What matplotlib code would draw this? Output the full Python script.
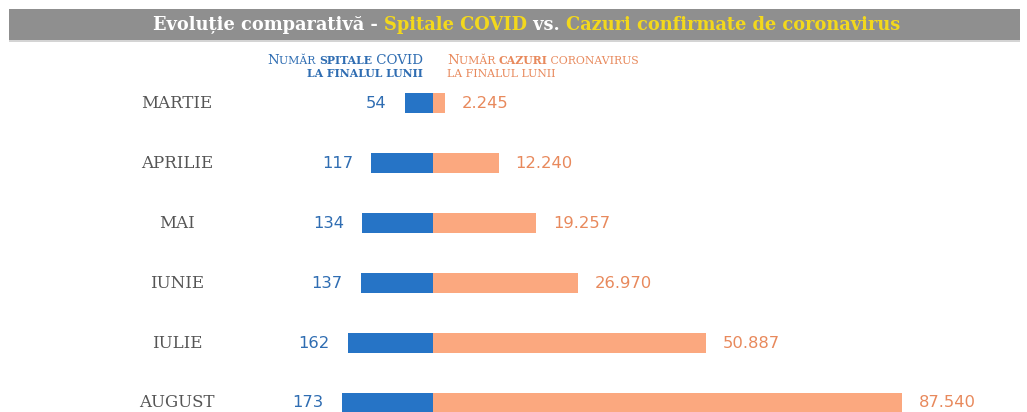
"""
Evolutie comparativa - Spitale COVID vs. Cazuri confirmate de coronavirus
Back-to-back horizontal bars: hospitals (left, blue) vs confirmed cases (right, orange)
"""

import matplotlib
matplotlib.use("Agg")
import matplotlib.pyplot as plt
from matplotlib.patches import Rectangle
from matplotlib import transforms


# Data
months = ['MARTIE', 'APRILIE', 'MAI', 'IUNIE', 'IULIE', 'AUGUST']
hospitals = [54, 117, 134, 137, 162, 173]
cases = [2245, 12240, 19257, 26970, 50887, 87540]

W, H = 1027, 412
BLUE = '#2674c6'
BLUE_TXT = '#2f6db2'
ORANGE = '#fba87f'
ORANGE_TXT = '#e8895c'
YELLOW = '#f3d81c'
GREY_BANNER = '#8f8f8f'


def fmt_ro(v):
    """Romanian thousands separator."""
    return f"{v:,}".replace(',', '.')


def draw_segments(fig, renderer, x_px, y_px, segments, ha='left'):
    """Draw a row of differently styled text pieces; y_px is the baseline from top."""
    texts = []
    for s, props in segments:
        t = fig.text(0, 0, s, va='baseline', ha='left', **props)
        texts.append(t)
    widths = [t.get_window_extent(renderer).width for t in texts]
    total = sum(widths)
    if ha == 'center':
        x = x_px - total / 2
    elif ha == 'right':
        x = x_px - total
    else:
        x = x_px
    for t, w in zip(texts, widths):
        t.set_position((x / W, 1 - y_px / H))
        x += w
    return texts


fig = plt.figure(figsize=(W / 100, H / 100), dpi=100)
fig.patch.set_facecolor('white')
renderer = fig.canvas.get_renderer()

center_px = 433
blue_scale = 0.527       # px per hospital
orange_scale = 0.00536   # px per case

# rows at pixel y 103 + 60*i, bar height 20px
y_top = -103 / 60
y_bot = (H - 103) / 60

ax_l = fig.add_axes([0, 0, center_px / W, 1])
ax_r = fig.add_axes([center_px / W, 0, (W - center_px) / W, 1])
ax_l.set_xlim(center_px / blue_scale, 0)
ax_r.set_xlim(0, (W - center_px) / orange_scale)
for ax in (ax_l, ax_r):
    ax.set_ylim(y_bot, y_top)
    ax.axis('off')

rows = list(range(len(months)))
ax_l.barh(rows, hospitals, height=20 / 60, color=BLUE, linewidth=0)
ax_r.barh(rows, cases, height=20 / 60, color=ORANGE, linewidth=0)

num_font = dict(family='DejaVu Sans', fontsize=11.8)
for i, v in enumerate(hospitals):
    ax_l.annotate(str(v), xy=(v, i), xytext=(-18, 0), textcoords='offset pixels',
                  ha='right', va='center', color=BLUE_TXT, **num_font)
for i, v in enumerate(cases):
    ax_r.annotate(fmt_ro(v), xy=(v, i), xytext=(17, 0), textcoords='offset pixels',
                  ha='left', va='center', color=ORANGE_TXT, **num_font)

# month labels, centred around x=177px
tr = transforms.blended_transform_factory(fig.transFigure, ax_l.transData)
for i, m in enumerate(months):
    ax_l.text(177 / W, i, m, transform=tr, ha='center', va='center',
              family='DejaVu Serif', fontsize=12, color='#555555')

# title banner
fig.patches.append(Rectangle((9 / W, 1 - 40 / H), 1011 / W, 31 / H,
                             transform=fig.transFigure, facecolor=GREY_BANNER,
                             edgecolor='none', zorder=0))
fig.patches.append(Rectangle((9 / W, 1 - 42 / H), 1011 / W, 2 / H,
                             transform=fig.transFigure, facecolor='#d4d4d4',
                             edgecolor='none', zorder=0))
tprops = dict(family='DejaVu Serif', fontweight='bold', fontsize=12.8)
draw_segments(fig, renderer, 527, 30, [
    ('Evoluție comparativă - ', dict(color='white', **tprops)),
    ('Spitale COVID', dict(color=YELLOW, **tprops)),
    (' vs. ', dict(color='white', **tprops)),
    ('Cazuri confirmate de coronavirus', dict(color=YELLOW, **tprops)),
], ha='center')

# column headers (small caps imitation)
big = 9.6
small = 7.8
def hdr(color, size, bold=False):
    return dict(family='DejaVu Serif', color=color, fontsize=size,
                fontweight='bold' if bold else 'normal')

draw_segments(fig, renderer, 423, 64, [
    ('N', hdr(BLUE_TXT, big)), ('UMĂR ', hdr(BLUE_TXT, small)),
    ('SPITALE', hdr(BLUE_TXT, small, True)), (' COVID', hdr(BLUE_TXT, big)),
], ha='right')
draw_segments(fig, renderer, 423, 77, [
    ('LA FINALUL LUNII', hdr(BLUE_TXT, small, True)),
], ha='right')
draw_segments(fig, renderer, 447, 64, [
    ('N', hdr(ORANGE_TXT, big)), ('UMĂR ', hdr(ORANGE_TXT, small)),
    ('CAZURI', hdr(ORANGE_TXT, small, True)), (' CORONAVIRUS', hdr(ORANGE_TXT, small)),
], ha='left')
draw_segments(fig, renderer, 447, 77, [
    ('LA FINALUL LUNII', hdr(ORANGE_TXT, small)),
], ha='left')

fig.savefig('out.png', dpi=100)
